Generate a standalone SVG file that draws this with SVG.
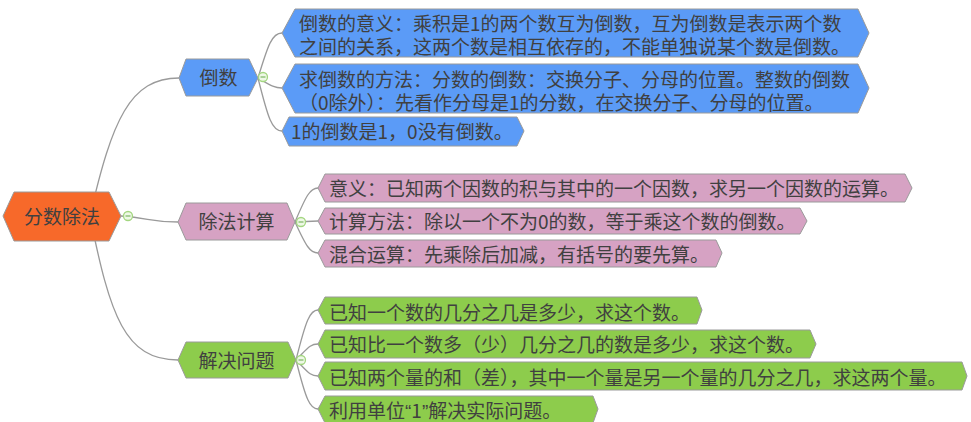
<svg xmlns="http://www.w3.org/2000/svg" width="971" height="422" viewBox="0 0 971 422">
<style>
.t{font-family:"Noto Sans CJK SC","Microsoft YaHei",sans-serif;font-size:19px;fill:#404040}
.m{text-anchor:middle}
.n{stroke:#9a9a9a;stroke-width:1}
.blue{fill:#5b9bf7}
.pink{fill:#d6a2c3}
.green{fill:#8dcc4c}
.root{fill:#f7692a}
.c{fill:none;stroke:#9a9a9a;stroke-width:1.3}
.cc{fill:#eef8e6;stroke:#a3d680;stroke-width:1.3}
.cm{stroke:#8cbf74;stroke-width:1.4}
.q{font-family:"Liberation Sans",sans-serif}
</style>
<rect width="971" height="422" fill="#ffffff"/>
<g id="connectors">
<path class="c" d="M 90 216 C 112 120, 130 78, 179 78"/>
<path class="c" d="M 90 216 C 110 316, 125 360, 178 360"/>
<path class="c" d="M 121 216 C 150 218, 150 222, 178 222"/>
<path class="c" d="M 258 78 C 268 45, 272 33, 282 33"/>
<path class="c" d="M 258 78 C 270 85, 274 88, 282 88"/>
<path class="c" d="M 258 78 C 268 118, 272 131, 282 131"/>
<path class="c" d="M 295 222 C 306 196, 310 188, 318 188"/>
<path class="c" d="M 295 222 L 318 221"/>
<path class="c" d="M 295 222 C 306 246, 310 253, 318 253"/>
<path class="c" d="M 296 360 C 306 320, 310 310, 318 310"/>
<path class="c" d="M 296 360 C 308 348, 310 344, 318 344"/>
<path class="c" d="M 296 360 C 308 372, 310 376, 318 376"/>
<path class="c" d="M 296 360 C 306 400, 310 409, 318 409"/>
</g>
<g id="root">
<polygon class="n root" points="3,216 14,192 109,192 121,216 109,241 14,241"/>
<text class="t m" x="62" y="224">分数除法</text>
<circle class="cc" cx="128" cy="216" r="4.5"/><line class="cm" x1="125.5" y1="216" x2="130.5" y2="216"/>
</g>
<g id="daoshu">
<polygon class="n blue" points="179,78 186,59 249,59 258,78 249,96 186,96"/>
<text class="t m" x="218.5" y="84.5">倒数</text>
<circle class="cc" cx="263" cy="77" r="4.5"/><line class="cm" x1="260.5" y1="77" x2="265.5" y2="77"/>
</g>
<g id="b1">
<polygon class="n blue" points="282,33 295,9 858,9 869,33 858,57 295,57"/>
<text class="t"><tspan x="299" y="30.5">倒数的意义：乘积是1的两个数互为倒数，互为倒数是表示两个数</tspan><tspan x="299" y="53.5">之间的关系，这两个数是相互依存的，不能单独说某个数是倒数。</tspan></text>
</g>
<g id="b2">
<polygon class="n blue" points="282,88 295,64 858,64 869,88 858,113 295,113"/>
<text class="t"><tspan x="299" y="86.5">求倒数的方法：分数的倒数：交换分子、分母的位置。整数的倒数</tspan><tspan x="299" y="109.5">（0除外）：先看作分母是1的分数，在交换分子、分母的位置。</tspan></text>
</g>
<g id="b3">
<polygon class="n blue" points="282,131 289,117 517,117 524,131 517,146 289,146"/>
<text class="t" x="291" y="139">1的倒数是1，0没有倒数。</text>
</g>
<g id="chufa">
<polygon class="n pink" points="178,222 186,203 287,203 295,222 287,240 186,240"/>
<text class="t m" x="236.5" y="229">除法计算</text>
<circle class="cc" cx="301" cy="222" r="4.5"/><line class="cm" x1="298.5" y1="222" x2="303.5" y2="222"/>
</g>
<g id="p1">
<polygon class="n pink" points="318,188 325,174 905,174 912,188 905,202 325,202"/>
<text class="t" x="329" y="196">意义：已知两个因数的积与其中的一个因数，求另一个因数的运算。</text>
</g>
<g id="p2">
<polygon class="n pink" points="318,221 325,208 800,208 807,221 800,234 325,234"/>
<text class="t" x="329" y="228.5">计算方法：除以一个不为0的数，等于乘这个数的倒数。</text>
</g>
<g id="p3">
<polygon class="n pink" points="318,253 325,240 716,240 722,253 716,267 325,267"/>
<text class="t" x="329" y="261.5">混合运算：先乘除后加减，有括号的要先算。</text>
</g>
<g id="jiejue">
<polygon class="n green" points="178,360 186,342 288,342 296,360 288,378 186,378"/>
<text class="t m" x="236.5" y="368">解决问题</text>
<circle class="cc" cx="301" cy="360" r="4.5"/><line class="cm" x1="298.5" y1="360" x2="303.5" y2="360"/>
</g>
<g id="g1">
<polygon class="n green" points="318,310 325,297 697,297 702,310 697,324 325,324"/>
<text class="t" x="329" y="320">已知一个数的几分之几是多少，求这个数。</text>
</g>
<g id="g2">
<polygon class="n green" points="318,344 325,330 810,330 816,344 810,358 325,358"/>
<text class="t" x="329" y="352">已知比一个数多（少）几分之几的数是多少，求这个数。</text>
</g>
<g id="g3">
<polygon class="n green" points="318,376 325,362 962,362 967,376 962,390 325,390"/>
<text class="t" x="329" y="385">已知两个量的和（差），其中一个量是另一个量的几分之几，求这两个量。</text>
</g>
<g id="g4">
<polygon class="n green" points="318,409 325,396 593,396 598,409 593,423 325,423"/>
<text class="t" x="329" y="418">利用单位<tspan class="q">“</tspan>1<tspan class="q">”</tspan>解决实际问题。</text>
</g>
</svg>
